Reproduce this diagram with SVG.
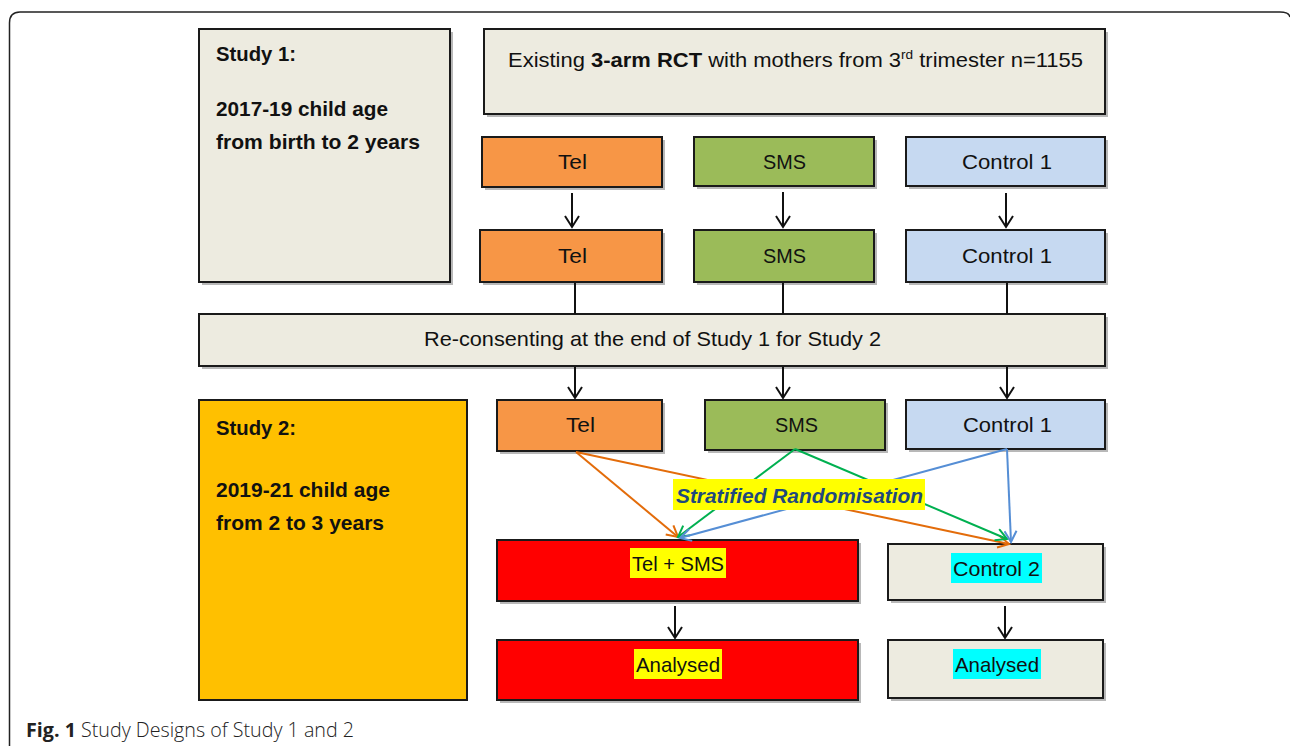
<svg xmlns="http://www.w3.org/2000/svg" width="1290" height="746" viewBox="0 0 1290 746">
<style>
.box{stroke:#1a1a1a;stroke-width:2}
.sh{fill:#b8b8b8}
.cream{fill:#EDEBE0}
.orange{fill:#F79646}
.green{fill:#9BBB59}
.blue{fill:#C6D9F1}
.red{fill:#FF0000}
.gold{fill:#FFC000}
.t{font-family:"Liberation Sans",Arial,sans-serif;font-size:21px;fill:#111}
.b{font-family:"Liberation Sans",Arial,sans-serif;font-size:20.5px;font-weight:bold;fill:#111}
.k{stroke:#111;stroke-width:2;fill:none}
.co{stroke:#E36C0A;stroke-width:2;fill:none}
.cg{stroke:#00B050;stroke-width:2;fill:none}
.cb{stroke:#558ED5;stroke-width:2;fill:none}
</style>
<defs>
<marker id="ak" markerWidth="14" markerHeight="16" refX="12" refY="8" orient="auto" markerUnits="userSpaceOnUse"><path d="M1,1 L12,8 L1,15" fill="none" stroke="#111" stroke-width="2"/></marker>
<marker id="ao" markerWidth="14" markerHeight="14" refX="12" refY="7" orient="auto" markerUnits="userSpaceOnUse"><path d="M1,1 L12,7 L1,13" fill="none" stroke="#E36C0A" stroke-width="2"/></marker>
<marker id="ag" markerWidth="14" markerHeight="14" refX="12" refY="7" orient="auto" markerUnits="userSpaceOnUse"><path d="M1,1 L12,7 L1,13" fill="none" stroke="#00B050" stroke-width="2"/></marker>
<marker id="ab" markerWidth="14" markerHeight="14" refX="12" refY="7" orient="auto" markerUnits="userSpaceOnUse"><path d="M1,1 L12,7 L1,13" fill="none" stroke="#558ED5" stroke-width="2"/></marker>
</defs>
<rect width="1290" height="746" fill="#fff"/>
<path d="M9.5,746 V23 Q9.5,12 20,12 H1280 Q1289,12 1290,17" fill="none" stroke="#222" stroke-width="1.5"/>

<g id="study1">
<rect class="sh" x="202" y="32" width="251" height="253"/>
<rect class="box cream" x="199" y="29" width="251" height="253"/>
<text class="b" x="216" y="61" textLength="80" lengthAdjust="spacingAndGlyphs">Study 1:</text>
<text class="b" x="216" y="116" textLength="172" lengthAdjust="spacingAndGlyphs">2017-19 child age</text>
<text class="b" x="216" y="149" textLength="204" lengthAdjust="spacingAndGlyphs">from birth to 2 years</text>
</g>

<g id="rct">
<rect class="sh" x="487" y="32" width="621" height="85"/>
<rect class="box cream" x="484" y="29" width="621" height="85"/>
<text class="t" x="508" y="67" textLength="575" lengthAdjust="spacingAndGlyphs">Existing <tspan font-weight="bold">3-arm RCT</tspan> with mothers from 3<tspan font-size="13" dy="-8">rd</tspan><tspan dy="8"> trimester n=1155</tspan></text>
</g>

<g id="tel1">
<rect class="sh" x="485" y="140" width="180" height="50"/>
<rect class="box orange" x="482" y="137" width="180" height="50"/>
<text class="t" x="558" y="169" textLength="29" lengthAdjust="spacingAndGlyphs">Tel</text>
</g>
<g id="sms1">
<rect class="sh" x="697" y="140" width="180" height="49"/>
<rect class="box green" x="694" y="137" width="180" height="49"/>
<text class="t" x="763" y="169" textLength="43" lengthAdjust="spacingAndGlyphs">SMS</text>
</g>
<g id="ctl1a">
<rect class="sh" x="909" y="140" width="199" height="49"/>
<rect class="box blue" x="906" y="137" width="199" height="49"/>
<text class="t" x="962" y="169" textLength="90" lengthAdjust="spacingAndGlyphs">Control 1</text>
</g>

<g id="tel2">
<rect class="sh" x="483" y="233" width="182" height="52"/>
<rect class="box orange" x="480" y="230" width="182" height="52"/>
<text class="t" x="558" y="263" textLength="29" lengthAdjust="spacingAndGlyphs">Tel</text>
</g>
<g id="sms2">
<rect class="sh" x="697" y="233" width="180" height="52"/>
<rect class="box green" x="694" y="230" width="180" height="52"/>
<text class="t" x="763" y="263" textLength="43" lengthAdjust="spacingAndGlyphs">SMS</text>
</g>
<g id="ctl1b">
<rect class="sh" x="909" y="233" width="199" height="52"/>
<rect class="box blue" x="906" y="230" width="199" height="52"/>
<text class="t" x="962" y="263" textLength="90" lengthAdjust="spacingAndGlyphs">Control 1</text>
</g>

<g id="reconsent">
<rect class="sh" x="202" y="317" width="906" height="52"/>
<rect class="box cream" x="199" y="314" width="906" height="52"/>
<text class="t" x="424" y="346" textLength="457" lengthAdjust="spacingAndGlyphs">Re-consenting at the end of Study 1 for Study 2</text>
</g>

<g id="study2">
<rect class="box gold" x="199" y="400" width="268" height="300"/>
<text class="b" x="216" y="435" textLength="80" lengthAdjust="spacingAndGlyphs">Study 2:</text>
<text class="b" x="216" y="497" textLength="174" lengthAdjust="spacingAndGlyphs">2019-21 child age</text>
<text class="b" x="216" y="530" textLength="168" lengthAdjust="spacingAndGlyphs">from 2 to 3 years</text>
</g>

<g id="tel3">
<rect class="sh" x="500" y="403" width="165" height="51"/>
<rect class="box orange" x="497" y="400" width="165" height="51"/>
<text class="t" x="566" y="432" textLength="29" lengthAdjust="spacingAndGlyphs">Tel</text>
</g>
<g id="sms3">
<rect class="sh" x="708" y="403" width="180" height="50"/>
<rect class="box green" x="705" y="400" width="180" height="50"/>
<text class="t" x="775" y="432" textLength="43" lengthAdjust="spacingAndGlyphs">SMS</text>
</g>
<g id="ctl1c">
<rect class="sh" x="909" y="403" width="199" height="49"/>
<rect class="box blue" x="906" y="400" width="199" height="49"/>
<text class="t" x="963" y="432" textLength="89" lengthAdjust="spacingAndGlyphs">Control 1</text>
</g>

<g id="telsms">
<rect class="sh" x="500" y="543" width="361" height="61"/>
<rect class="box red" x="497" y="540" width="361" height="61"/>
<rect x="630" y="548" width="96" height="30" fill="#FFFF00"/>
<text class="t" x="632" y="571" textLength="92" lengthAdjust="spacingAndGlyphs">Tel + SMS</text>
</g>
<g id="control2">
<rect class="sh" x="891" y="547" width="215" height="56"/>
<rect class="box cream" x="888" y="544" width="215" height="56"/>
<rect x="951" y="553" width="91" height="30" fill="#00FFFF"/>
<text class="t" x="953" y="576" textLength="87" lengthAdjust="spacingAndGlyphs">Control 2</text>
</g>
<g id="analysed1">
<rect class="sh" x="500" y="643" width="361" height="60"/>
<rect class="box red" x="497" y="640" width="361" height="60"/>
<rect x="634" y="649" width="88" height="30" fill="#FFFF00"/>
<text class="t" x="636" y="672" textLength="84" lengthAdjust="spacingAndGlyphs">Analysed</text>
</g>
<g id="analysed2">
<rect class="sh" x="891" y="643" width="215" height="58"/>
<rect class="box cream" x="888" y="640" width="215" height="58"/>
<rect x="953" y="649" width="88" height="30" fill="#00FFFF"/>
<text class="t" x="955" y="672" textLength="84" lengthAdjust="spacingAndGlyphs">Analysed</text>
</g>

<g id="connectors">
<line class="k" x1="572" y1="193" x2="572" y2="227" marker-end="url(#ak)"/>
<line class="k" x1="783" y1="192" x2="783" y2="227" marker-end="url(#ak)"/>
<line class="k" x1="1006" y1="193" x2="1006" y2="227" marker-end="url(#ak)"/>
<line class="k" x1="575" y1="283" x2="575" y2="314"/>
<line class="k" x1="783" y1="283" x2="783" y2="314"/>
<line class="k" x1="1007" y1="283" x2="1007" y2="314"/>
<line class="k" x1="575" y1="367" x2="575" y2="398" marker-end="url(#ak)"/>
<line class="k" x1="783" y1="367" x2="783" y2="398" marker-end="url(#ak)"/>
<line class="k" x1="1007" y1="367" x2="1007" y2="398" marker-end="url(#ak)"/>
<line class="k" x1="675" y1="606" x2="675" y2="638" marker-end="url(#ak)"/>
<line class="k" x1="1005" y1="606" x2="1005" y2="638" marker-end="url(#ak)"/>
<line class="co" x1="576" y1="452" x2="678" y2="537" marker-end="url(#ao)"/>
<line class="co" x1="576" y1="452" x2="1009" y2="544" marker-end="url(#ao)"/>
<line class="cg" x1="795" y1="449" x2="678" y2="537" marker-end="url(#ag)"/>
<line class="cg" x1="795" y1="449" x2="1007" y2="539" marker-end="url(#ag)"/>
<line class="cb" x1="1007" y1="449" x2="680" y2="538" marker-end="url(#ab)"/>
<line class="cb" x1="1007" y1="449" x2="1011" y2="542" marker-end="url(#ab)"/>
</g>

<g id="strat">
<rect x="673" y="479" width="252" height="31" fill="#FFFF00"/>
<text x="676" y="503" font-family="Liberation Sans,Arial,sans-serif" font-size="21" font-weight="bold" font-style="italic" fill="#1F497D" textLength="247" lengthAdjust="spacingAndGlyphs">Stratified Randomisation</text>
</g>

<text x="26" y="737" font-family="Open Sans,Liberation Sans,sans-serif" font-size="19.5" fill="#222" textLength="328" lengthAdjust="spacingAndGlyphs"><tspan font-weight="bold">Fig. 1</tspan><tspan font-weight="300"> Study Designs of Study 1 and 2</tspan></text>
</svg>
